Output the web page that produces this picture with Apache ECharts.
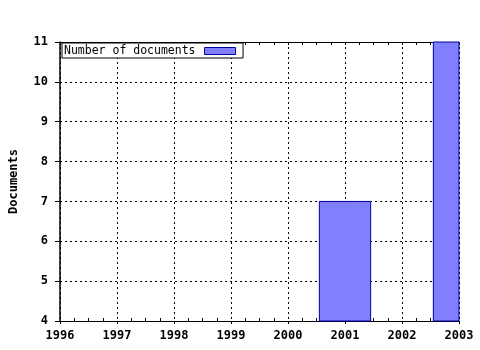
<!DOCTYPE html>
<html>
<head>
<meta charset="utf-8">
<script src="https://cdn.jsdelivr.net/npm/echarts@6/dist/echarts.min.js"></script>
<style>html,body{margin:0;padding:0;background:#fff;}#c{width:480px;height:350px;}</style>
</head>
<body>
<div id="c"></div>
<script>
var yearTicks = [1996, 1997, 1998, 1999, 2000, 2001, 2002, 2003];
var barYears = [2001, 2003];
var documents = [7, 11];
var seriesName = 'Number of documents';
var yAxisName = 'Documents';

var font = 'DejaVu Sans Mono';
var chart = echarts.init(document.getElementById('c'), null, {renderer: 'canvas'});
var xMin = yearTicks[0], xMax = yearTicks[yearTicks.length - 1];
var yMin = 4, yMax = 11;
var data = barYears.map(function (y, i) { return [y, documents[i]]; });

function renderBar(params, api) {
  var top = api.coord([api.value(0), api.value(1)]);
  var base = api.coord([api.value(0), yMin]);
  var halfW = api.size([1, 0])[0] * 0.45;
  var cs = params.coordSys;
  var shape = echarts.graphic.clipRectByRect(
    {x: top[0] - halfW, y: top[1], width: halfW * 2, height: base[1] - top[1]},
    {x: cs.x, y: cs.y, width: cs.width, height: cs.height}
  );
  if (!shape) return null;
  return {type: 'rect', shape: shape, style: api.style({fill: '#8080ff', stroke: '#0000a0', lineWidth: 1})};
}

chart.setOption({
  animation: false,
  backgroundColor: '#ffffff',
  grid: {left: 57, right: 21, top: 42, bottom: 29, containLabel: false},
  legend: {
    show: true,
    left: 62, top: 43,
    align: 'right',
    orient: 'horizontal',
    backgroundColor: '#ffffff',
    borderColor: '#000000',
    borderWidth: 1,
    padding: [2, 7, 1, 2],
    itemWidth: 31, itemHeight: 7,
    itemGap: 0,
    itemStyle: {color: '#8080ff', borderColor: '#0000a0', borderWidth: 1},
    textStyle: {fontFamily: font, fontSize: 11.5, color: '#000', padding: [0, 4, 0, 0]},
    data: [{name: seriesName, icon: 'rect'}]
  },
  xAxis: [{
    type: 'value', position: 'bottom', min: xMin, max: xMax, interval: 1,
    axisLine: {show: true, lineStyle: {color: '#000', width: 1}},
    axisTick: {show: true, length: 3, lineStyle: {color: '#000'}},
    minorTick: {show: true, splitNumber: 4, length: -3, lineStyle: {color: '#000'}},
    axisLabel: {margin: 9, fontFamily: font, fontWeight: 'bold', fontSize: 12, color: '#000', formatter: function (v) { return String(v); }},
    splitLine: {show: true, lineStyle: {color: '#000', type: [2, 3], width: 1}}
  }, {
    type: 'value', position: 'top', min: xMin, max: xMax, interval: 1,
    axisLine: {show: true, lineStyle: {color: '#000', width: 1}},
    axisTick: {show: true, inside: true, length: 3, lineStyle: {color: '#000'}},
    minorTick: {show: true, splitNumber: 4, length: 3, lineStyle: {color: '#000'}},
    axisLabel: {show: false},
    splitLine: {show: false}
  }],
  yAxis: {
    type: 'value', min: yMin, max: yMax, interval: 1,
    name: yAxisName, nameLocation: 'middle', nameGap: 40, nameRotate: 90,
    nameTextStyle: {fontFamily: font, fontWeight: 'bold', fontSize: 12, color: '#000'},
    axisLine: {show: true, lineStyle: {color: '#000', width: 1.5}},
    axisTick: {show: true, length: 5, lineStyle: {color: '#000'}},
    axisLabel: {margin: 12, fontFamily: font, fontWeight: 'bold', fontSize: 12, color: '#000'},
    splitLine: {show: true, lineStyle: {color: '#000', type: [2, 3], width: 1}}
  },
  series: [{
    name: seriesName,
    type: 'custom',
    xAxisIndex: 0,
    itemStyle: {color: '#8080ff', borderColor: '#0000a0', borderWidth: 1},
    renderItem: renderBar,
    encode: {x: 0, y: 1},
    data: data,
    z: 3
  }]
});
</script>
</body>
</html>
